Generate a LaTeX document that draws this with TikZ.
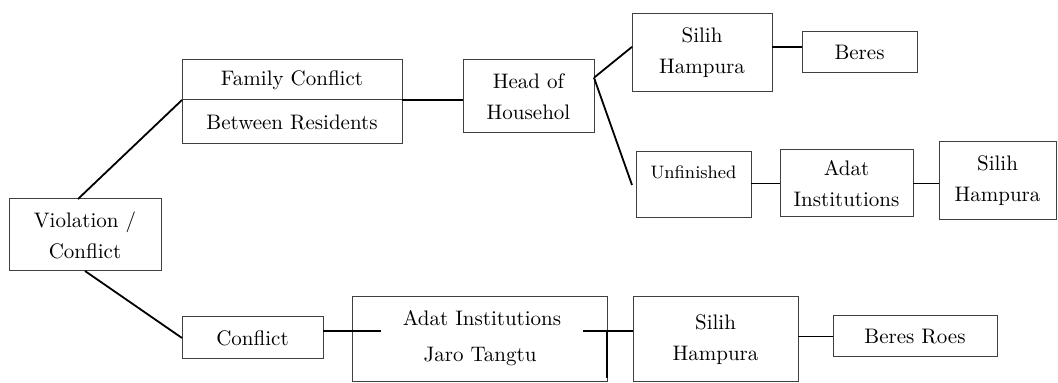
\documentclass[tikz,border=0pt]{standalone}
\usepackage{tikz}
\usetikzlibrary{positioning}

\begin{document}
\begin{tikzpicture}[x=0.5pt,y=-0.5pt,
  box/.style={draw=black!75,line width=0.5pt,inner sep=0pt,outer sep=0pt,align=center,font=\fontsize{10.5}{15.5}\selectfont},
  txt/.style={inner sep=0pt,font=\fontsize{10.5}{15.5}\selectfont},
  link/.style={line width=0.9pt}]
\useasboundingbox (0,0) rectangle (1058,383);
% left root
\node[box,minimum width=76pt,minimum height=36pt] (viol) at (85,235) {Violation /\\Conflict};
% upper branch
\node[box,minimum width=110pt,minimum height=20pt] (fam1) at (292,80) {Family Conflict};
\node[box,minimum width=110pt,minimum height=22pt] (fam2) at (292,122) {Between Residents};
\node[box,minimum width=65.5pt,minimum height=36.5pt] (head) at (528.5,96.5) {Head of\\Househol};
\node[box,minimum width=70pt,minimum height=39pt] (silih1) at (702,53) {Silih\\Hampura};
\node[box,minimum width=57.5pt,minimum height=20.5pt] (beres) at (859.5,52.5) {Beres};
\node[box,minimum width=57.5pt,minimum height=33pt] (unf) at (693.5,185) {};
\node[txt,font=\fontsize{9}{11}\selectfont] (unftext) at (693.5,172) {Unfinished};
\node[box,minimum width=66.5pt,minimum height=33.5pt] (adat1) at (846.5,183.5) {Adat\\Institutions};
\node[box,minimum width=58.5pt,minimum height=39pt] (silih2) at (997.5,181) {Silih\\Hampura};
% lower branch
\node[box,minimum width=70.5pt,minimum height=21pt] (conf) at (252.5,338) {Conflict};
\node[box,minimum width=127.5pt,minimum height=42.5pt] (lembaga) at (479.5,339.5) {};
\node[box,minimum width=82.5pt,minimum height=42.5pt] (silih3) at (715.5,339.5) {Silih\\Hampura};
\node[box,minimum width=82pt,minimum height=20.5pt] (beresroes) at (915,336.5) {Beres Roes};
\coordinate (mid) at (0,331);
\draw[link] (conf.east |- mid) -- (silih3.west |- mid);
\draw[link] (lembaga.east |- mid) -- ++(0,47);
\node[txt,fill=white,inner xsep=11pt,minimum height=15pt] (adat2) at (482,318) {Adat Institutions};
\node[txt] (jaro) at (480,356) {Jaro Tangtu};
% connectors
\draw[link] ([xshift=-3.5pt]viol.north) -- (fam1.south west);
\draw[link] (viol.south) -- (conf.west);
\draw[link] (fam1.south east) -- (fam1.south east -| head.west);
\draw[link] (head.16) -- (silih1.175);
\draw[link] (head.16) -- ([xshift=-2pt]unf.west);
\draw[link] ([yshift=3pt]silih1.east) -- ([yshift=3pt]silih1.east -| beres.west);
\draw[link] (adat1.west -| unf.east) -- (adat1.west);
\draw[link] (adat1.east) -- (adat1.east -| silih2.west);
\draw[link] (beresroes.west -| silih3.east) -- (beresroes.west);
\end{tikzpicture}
\end{document}
